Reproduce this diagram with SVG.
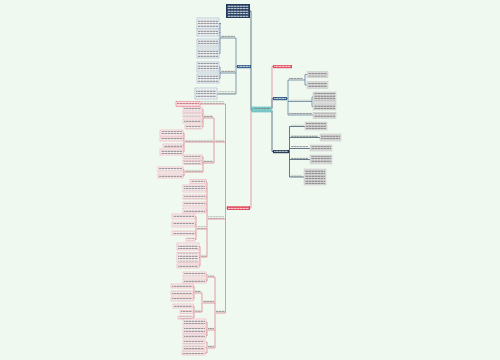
<svg xmlns="http://www.w3.org/2000/svg" width="500" height="360" viewBox="0 0 500 360">
<defs>
<pattern id="tx" width="3" height="2.5" patternUnits="userSpaceOnUse"><rect x="0" y="0.7" width="2.6" height="0.9" fill="#707070"/></pattern>
<pattern id="txw" width="3" height="2.5" patternUnits="userSpaceOnUse"><rect x="0" y="0.7" width="2.6" height="0.9" fill="#ffffff"/></pattern>
<pattern id="txr" width="3" height="2.5" patternUnits="userSpaceOnUse"><rect x="0" y="0.7" width="2.6" height="0.9" fill="#b0505e"/></pattern>
</defs>
<style>
.rl{fill:#fdf3f5;stroke:#e59aa6;stroke-width:.5}
.bl{fill:#f4f7fa;stroke:#8aa2bb;stroke-width:.5}
.gl{fill:#dddddd;stroke:#c2c2c2;stroke-width:.5}
.t{fill:url(#tx)}
.tw{fill:url(#txw)}
.tr{fill:url(#txr)}
.cr{fill:none;stroke:#dc7383;stroke-width:.7}
.cb{fill:none;stroke:#4d7094;stroke-width:.7}
.cd{fill:none;stroke:#27425f;stroke-width:.7}
</style>
<rect width="500" height="360" fill="#f0f9f0"/>
<g id="connectors">
<path class="cd" d="M250,11 H251 V110 H252"/>
<path class="cr" d="M252,110.5 H251 V208 H250"/>
<path class="cr" d="M272,108 V66.5 H273"/>
<path class="cb" d="M272,108 V98.5 H273"/>
<path class="cd" d="M272,111 V151.5 H273"/>
<path class="cb" d="M237,66.5 H236 M236,38 V94 M221,38 H236 M221,73 H236 M218,94 H236"/>
<path class="cb" d="M220,23.5 V53.5 M219,23.5 H221 M219,32.5 H220 M219,43 H220 M219,53.5 H220 M220,38 H221"/>
<path class="cb" d="M220,67 V78.5 M219,67 H220 M219,78.5 H220 M220,73 H221 M217,94 H218"/>
<path class="cb" d="M287,98.5 H288 M288,80 V115 M288,80 H303 M288,101.5 H311 M288,115 H313"/>
<path class="cb" d="M303,80 H305 M305,74.5 V85 M305,74.5 H307 M305,85 H307 M311,101.5 H312 M312,97 V106.5 M312,97 H313 M312,106.5 H313"/>
<path class="cd" d="M289,151.5 H289.5 M289.5,126.5 V177 M289.5,126.5 H305 M289.5,137.5 H320 M289.5,148.5 H310 M289.5,159.5 H310 M289.5,177 H304"/>
<path class="cr" d="M227,208 H225.5 M225.5,104 V313 M200,104 H225.5 M215,142 H225.5 M208,219 H225.5 M216,313 H225.5"/>
<path class="cr" d="M214,118 V163 M203,118 H214 M185,142 H214 M203,163 H214"/>
<path class="cr" d="M203,109.5 V127 M202,109.5 H203 M202,115 H203 M202,121 H203 M202,127 H203"/>
<path class="cr" d="M184,133 V152 M183,133 H184 M183,138.5 H184 M183,145.75 H184 M183,152 H184"/>
<path class="cr" d="M203,157 V172 M202,157 H203 M202,162.5 H203 M185,172 H203 M184,169.5 V176 M183,169.5 H184 M183,176 H184"/>
<path class="cr" d="M207,182 V257 M206,181.5 H207 M206,188.5 H207 M206,197 H207 M206,204 H207 M206,210.5 H207 M197,229 H207 M201,257 H207"/>
<path class="cr" d="M196,216.5 V239.5 M195,216.5 H196 M195,224.5 H196 M195,233 H196 M195,239.5 H196"/>
<path class="cr" d="M200,246.5 V266 M199,246.5 H200 M199,257.5 H200 M199,266 H200"/>
<path class="cr" d="M215,277 V348 M208,277 H215 M203,303 H215 M208,330 H215 M208,348 H215"/>
<path class="cr" d="M207,274.5 V281 M206,274.5 H207 M206,281 H207"/>
<path class="cr" d="M202,293 V312 M195,293 H202 M195,312 H202 M194,286 V299 M193,286 H194 M193,293 H194 M193,299 H194 M194,306 V317.5 M193,306 H194 M193,312 H194 M193,317.5 H194"/>
<path class="cr" d="M207,322 V336 M206,322 H207 M206,330 H207 M206,336 H207"/>
<path class="cr" d="M207,342 V353 M206,342 H207 M206,347.75 H207 M205,353 H207"/>
</g>
<g id="top"><rect x="226" y="4" width="24" height="14" fill="#1f3a5c"/><rect class="tw" x="227.5" y="5" width="21" height="12"/></g>
<g id="root"><rect x="252" y="107" width="20" height="5" fill="#86d5d5" stroke="#3aa7a8" stroke-width=".5"/><rect class="t" x="253.5" y="108" width="17" height="3"/></g>
<g id="red-r"><rect x="273" y="65" width="19" height="3.2" fill="#e14a5e"/><rect class="tw" x="274" y="65.3" width="17" height="2.5"/></g>
<g id="blue-r"><rect x="273" y="97" width="14" height="3.2" fill="#2d5a86"/><rect class="tw" x="274" y="97.3" width="12" height="2.5"/></g>
<g id="dark-r"><rect x="273" y="150" width="16" height="3.2" fill="#1d3551"/><rect class="tw" x="274" y="150.3" width="14" height="2.5"/></g>
<g id="blue-l"><rect x="237" y="65" width="14" height="3.2" fill="#2d5a86"/><rect class="tw" x="238" y="65.3" width="12" height="2.5"/></g>
<g id="red-l"><rect x="227" y="206" width="23" height="4" fill="#e14a5e"/><rect class="tw" x="228" y="206.5" width="21" height="3"/></g>

<g id="bl-a"><rect class="t" x="221" y="35.5" width="14" height="2"/></g>
<g id="bl-b"><rect class="t" x="221" y="70.5" width="14" height="2"/></g>
<g id="bl-c"><rect class="t" x="218" y="91.5" width="17" height="2"/></g>
<g id="bl-a1"><rect class="bl" x="197" y="18" width="22" height="11"/><rect class="t" x="198" y="19" width="20" height="9"/></g>
<g id="bl-a2"><rect class="bl" x="197" y="29" width="22" height="7"/><rect class="t" x="198" y="30" width="20" height="5"/></g>
<g id="bl-a3"><rect class="bl" x="197" y="39" width="22" height="8"/><rect class="t" x="198" y="40" width="20" height="6"/></g>
<g id="bl-a4"><rect class="bl" x="197" y="49" width="22" height="9"/><rect class="t" x="198" y="50" width="20" height="7"/></g>
<g id="bl-b1"><rect class="bl" x="197" y="62" width="22" height="10"/><rect class="t" x="198" y="63" width="20" height="8"/></g>
<g id="bl-b2"><rect class="bl" x="197" y="74" width="22" height="9"/><rect class="t" x="198" y="75" width="20" height="7"/></g>
<g id="bl-c1"><rect class="bl" x="195" y="88" width="22" height="11"/><rect class="t" x="196" y="89" width="20" height="9"/></g>

<g id="br-1"><rect class="t" x="289" y="77.5" width="14" height="2"/></g>
<g id="br-2"><rect class="t" x="289" y="99" width="22" height="2"/></g>
<g id="br-3"><rect class="t" x="289" y="112.5" width="23" height="2"/></g>
<g id="br-1a"><rect class="gl" x="307" y="71.5" width="21" height="6"/><rect class="t" x="308" y="72.5" width="19" height="4"/></g>
<g id="br-1b"><rect class="gl" x="307" y="81.5" width="21" height="7"/><rect class="t" x="308" y="82.5" width="19" height="5"/></g>
<g id="br-2a"><rect class="gl" x="313" y="92" width="23" height="10"/><rect class="t" x="314" y="93" width="21" height="8"/></g>
<g id="br-2b"><rect class="gl" x="313" y="103" width="23" height="7"/><rect class="t" x="314" y="104" width="21" height="5"/></g>
<g id="br-3a"><rect class="gl" x="313" y="112.5" width="23" height="6"/><rect class="t" x="314" y="113.5" width="21" height="4"/></g>

<g id="dr-1"><rect class="t" x="291" y="124" width="13" height="2"/></g>
<g id="dr-2"><rect class="t" x="291" y="135" width="27" height="2"/></g>
<g id="dr-3"><rect class="t" x="291" y="146" width="17" height="2"/></g>
<g id="dr-4"><rect class="t" x="291" y="157" width="17" height="2"/></g>
<g id="dr-5"><rect class="t" x="291" y="174.5" width="11" height="2"/></g>
<g id="dr-1a"><rect class="gl" x="305" y="122" width="22" height="8"/><rect class="t" x="306" y="123" width="20" height="6"/></g>
<g id="dr-2a"><rect class="gl" x="320" y="134" width="21" height="7"/><rect class="t" x="321" y="135" width="19" height="5"/></g>
<g id="dr-3a"><rect class="gl" x="310" y="145" width="22" height="6"/><rect class="t" x="311" y="146" width="20" height="4"/></g>
<g id="dr-4a"><rect class="gl" x="310" y="155" width="22" height="9"/><rect class="t" x="311" y="156" width="20" height="7"/></g>
<g id="dr-5a"><rect class="gl" x="304" y="169" width="22" height="16"/><rect class="t" x="305" y="170" width="20" height="14"/></g>

<g id="rl-a"><rect class="t" x="201" y="101.5" width="23" height="2"/></g>
<g id="rl-a1"><rect x="176" y="101.5" width="24" height="5" fill="#fbe6e9" stroke="#e0606f" stroke-width=".5"/><rect class="tr" x="177" y="102.5" width="22" height="3"/></g>
<g id="rl-b"><rect class="t" x="215" y="139.5" width="9" height="2"/></g>
<g id="rl-b1"><rect class="t" x="204" y="115.5" width="9" height="2"/></g>
<g id="rl-b2"><rect class="t" x="185" y="139.5" width="28" height="2"/></g>
<g id="rl-b3"><rect class="t" x="204" y="160.5" width="9" height="2"/></g>
<g id="rl-b1a"><rect class="rl" x="183" y="107" width="19" height="5"/><rect class="t" x="184" y="108" width="17" height="3"/></g>
<g id="rl-b1b"><rect class="rl" x="183" y="113" width="19" height="4"/><rect class="t" x="184" y="113.8" width="17" height="2.5"/></g>
<g id="rl-b1c"><rect class="rl" x="183" y="119" width="19" height="4"/><rect class="t" x="184" y="119.8" width="17" height="2.5"/></g>
<g id="rl-b1d"><rect class="rl" x="185" y="125" width="17" height="4"/><rect class="t" x="186" y="125.8" width="15" height="2.5"/></g>
<g id="rl-b2a"><rect class="rl" x="160" y="130" width="23" height="6"/><rect class="t" x="161" y="131" width="21" height="4"/></g>
<g id="rl-b2b"><rect class="rl" x="160" y="137" width="23" height="4"/><rect class="t" x="161" y="137.8" width="21" height="2.5"/></g>
<g id="rl-b2c"><rect class="rl" x="163" y="144" width="20" height="3.5"/><rect class="t" x="164" y="144.6" width="18" height="2.4"/></g>
<g id="rl-b2d"><rect class="rl" x="160" y="149" width="23" height="6"/><rect class="t" x="161" y="150" width="21" height="4"/></g>
<g id="rl-b3a"><rect class="rl" x="183" y="155" width="19" height="4"/><rect class="t" x="184" y="155.8" width="17" height="2.5"/></g>
<g id="rl-b3b"><rect class="rl" x="183" y="160.5" width="19" height="4"/><rect class="t" x="184" y="161.3" width="17" height="2.5"/></g>
<g id="rl-b3c"><rect class="t" x="185" y="169.5" width="17" height="2"/></g>
<g id="rl-b3c1"><rect class="rl" x="158" y="167" width="25" height="5"/><rect class="t" x="159" y="168" width="23" height="3"/></g>
<g id="rl-b3c2"><rect class="rl" x="158" y="174" width="25" height="4"/><rect class="t" x="159" y="174.8" width="23" height="2.5"/></g>

<g id="rl-c"><rect class="t" x="208" y="216.5" width="16" height="2"/></g>
<g id="rl-c1"><rect class="rl" x="190" y="179.5" width="16" height="4"/><rect class="t" x="191" y="180.3" width="14" height="2.5"/></g>
<g id="rl-c2"><rect class="rl" x="183" y="185" width="23" height="7"/><rect class="t" x="184" y="186" width="21" height="5"/></g>
<g id="rl-c3"><rect class="rl" x="183" y="195" width="23" height="4"/><rect class="t" x="184" y="195.8" width="21" height="2.5"/></g>
<g id="rl-c4"><rect class="rl" x="183" y="202" width="23" height="4"/><rect class="t" x="184" y="202.8" width="21" height="2.5"/></g>
<g id="rl-c5"><rect class="rl" x="183" y="208" width="23" height="5"/><rect class="t" x="184" y="209" width="21" height="3"/></g>
<g id="rl-c6"><rect class="t" x="197" y="226.5" width="9" height="2"/></g>
<g id="rl-c6a"><rect class="rl" x="172" y="214" width="23" height="5"/><rect class="t" x="173" y="215" width="21" height="3"/></g>
<g id="rl-c6b"><rect class="rl" x="172" y="222" width="23" height="5"/><rect class="t" x="173" y="223" width="21" height="3"/></g>
<g id="rl-c6c"><rect class="rl" x="172" y="231" width="23" height="4"/><rect class="t" x="173" y="231.8" width="21" height="2.5"/></g>
<g id="rl-c6d"><rect class="rl" x="186" y="238" width="9" height="3"/><rect class="t" x="187" y="238.5" width="7" height="2"/></g>
<g id="rl-c7"><rect class="t" x="201" y="254.5" width="5" height="2"/></g>
<g id="rl-c7a"><rect class="rl" x="177" y="243" width="22" height="7"/><rect class="t" x="178" y="244" width="20" height="5"/></g>
<g id="rl-c7b"><rect class="rl" x="177" y="252.5" width="22" height="10"/><rect class="t" x="178" y="253.5" width="20" height="8"/></g>
<g id="rl-c7c"><rect class="rl" x="177" y="264" width="22" height="4"/><rect class="t" x="178" y="264.8" width="20" height="2.5"/></g>

<g id="rl-d"><rect class="t" x="216" y="310.5" width="9" height="2"/></g>
<g id="rl-d1"><rect class="t" x="208" y="274.5" width="6" height="2"/></g>
<g id="rl-d1a"><rect class="rl" x="183" y="272" width="23" height="5"/><rect class="t" x="184" y="273" width="21" height="3"/></g>
<g id="rl-d1b"><rect class="rl" x="183" y="279" width="23" height="4"/><rect class="t" x="184" y="279.8" width="21" height="2.5"/></g>
<g id="rl-d2"><rect class="t" x="203" y="300.5" width="11" height="2"/></g>
<g id="rl-d2a"><rect class="t" x="195" y="290.5" width="6" height="2"/></g>
<g id="rl-d2b"><rect class="t" x="195" y="309.5" width="6" height="2"/></g>
<g id="rl-d2a1"><rect class="rl" x="171" y="284" width="22" height="4"/><rect class="t" x="172" y="284.8" width="20" height="2.5"/></g>
<g id="rl-d2a2"><rect class="rl" x="171" y="291" width="22" height="4"/><rect class="t" x="172" y="291.8" width="20" height="2.5"/></g>
<g id="rl-d2a3"><rect class="rl" x="171" y="297" width="22" height="4"/><rect class="t" x="172" y="297.8" width="20" height="2.5"/></g>
<g id="rl-d2b1"><rect class="rl" x="173" y="304" width="20" height="4"/><rect class="t" x="174" y="304.8" width="18" height="2.5"/></g>
<g id="rl-d2b2"><rect class="rl" x="180" y="310.5" width="13" height="3"/><rect class="t" x="181" y="311" width="11" height="2"/></g>
<g id="rl-d2b3"><rect class="rl" x="178" y="316" width="15" height="3"/><rect class="t" x="179" y="316.5" width="13" height="2"/></g>
<g id="rl-d3"><rect class="t" x="208" y="327.5" width="6" height="2"/></g>
<g id="rl-d3a"><rect class="rl" x="183" y="319" width="23" height="6"/><rect class="t" x="184" y="320" width="21" height="4"/></g>
<g id="rl-d3b"><rect class="rl" x="183" y="327" width="23" height="6"/><rect class="t" x="184" y="328" width="21" height="4"/></g>
<g id="rl-d3c"><rect class="rl" x="183" y="334" width="23" height="4"/><rect class="t" x="184" y="334.8" width="21" height="2.5"/></g>
<g id="rl-d4"><rect class="t" x="208" y="345.5" width="6" height="2"/></g>
<g id="rl-d4a"><rect class="rl" x="183" y="340" width="22" height="4"/><rect class="t" x="184" y="340.8" width="20" height="2.5"/></g>
<g id="rl-d4b"><rect class="rl" x="183" y="346" width="22" height="3.5"/><rect class="t" x="184" y="346.6" width="20" height="2.4"/></g>
<g id="rl-d4c"><rect class="rl" x="182" y="351" width="23" height="4"/><rect class="t" x="183" y="351.8" width="21" height="2.5"/></g>
</svg>
